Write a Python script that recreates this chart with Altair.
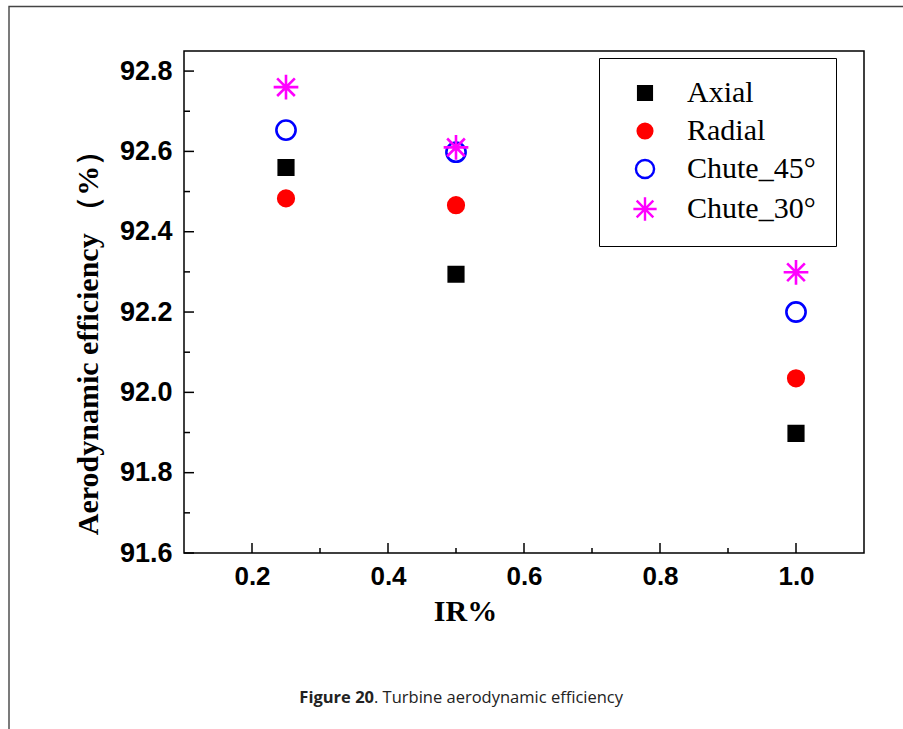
import altair as alt
import pandas as pd

# ---- data ----
ir_values = [0.25, 0.5, 1.0]
axial = [92.56, 92.294, 91.898]
radial = [92.483, 92.466, 92.035]
chute45 = [92.653, 92.598, 92.200]
chute30 = [92.760, 92.610, 92.299]
series_names = ["Axial", "Radial", "Chute_45°", "Chute_30°"]
series_values = [axial, radial, chute45, chute30]

x_major = [0.2, 0.4, 0.6, 0.8, 1.0]
x_minor = [0.3, 0.5, 0.7, 0.9]
y_major = [91.6, 91.8, 92.0, 92.2, 92.4, 92.6, 92.8]
y_minor = [91.7, 91.9, 92.1, 92.3, 92.5, 92.7]

x_title = "IR%"
y_title = "Aerodynamic efficiency （%）"
caption_bold = ["Figure 20"]
caption_rest = [". Turbine aerodynamic efficiency"]

W, H = 680, 502

rows = []
for name, vals in zip(series_names, series_values):
    for x, v in zip(ir_values, vals):
        rows.append({"IR": x, "eff": v, "series": name})
df = pd.DataFrame(rows)

# symbol paths (unit = 13 px at size 676)
square = "M-0.56,-0.56H0.56V0.56H-0.56Z"
dot = "M0.6,0A0.6,0.6,0,1,1,-0.6,0A0.6,0.6,0,1,1,0.6,0Z"
ring = "M0.74,0A0.74,0.74,0,1,1,-0.74,0A0.74,0.74,0,1,1,0.74,0Z"
star = "M-0.95,0L0.95,0M0,-0.95L0,0.95M-0.68,-0.68L0.68,0.68M-0.68,0.68L0.68,-0.68"

xscale = alt.Scale(domain=[0.1, 1.1], nice=False, zero=False)
yscale = alt.Scale(domain=[91.6, 92.85], nice=False, zero=False)

xaxis = alt.Axis(values=x_major, format=".1f", title=x_title,
                 grid=False, ticks=False, domain=False,
                 labelFont="Liberation Sans", labelFontWeight="bold",
                 labelFontSize=26, labelColor="black", labelPadding=10,
                 titleFont="Liberation Serif", titleFontWeight="bold",
                 titleFontSize=30, titleColor="black",
                 titleX=281, titleY=58, titleAlign="center",
                 titleBaseline="middle")
yaxis = alt.Axis(values=y_major, format=".1f", title=y_title,
                 grid=False, ticks=False, domain=False,
                 labelFont="Liberation Sans", labelFontWeight="bold",
                 labelFontSize=27, labelColor="black", labelPadding=12,
                 titleFont="Liberation Serif", titleFontWeight="bold",
                 titleFontSize=30, titleColor="black",
                 titleAngle=-90, titleX=-96, titleY=284,
                 titleAlign="center", titleBaseline="middle")

legend = alt.Legend(title=None, orient="none", legendX=415, legendY=7,
                    strokeColor="black", fillColor="white", padding=20,
                    symbolOffset=11, labelOffset=27, rowPadding=8,
                    symbolSize=600,
                    labelFont="Liberation Serif", labelFontSize=30,
                    labelColor="black", symbolStrokeWidth=2.4, labelLimit=400)

points = alt.Chart(df).mark_point(strokeWidth=2.6, opacity=1, size=676).encode(
    x=alt.X("IR:Q", scale=xscale, axis=xaxis, title=x_title),
    y=alt.Y("eff:Q", scale=yscale, axis=yaxis, title=y_title),
    shape=alt.Shape("series:N", scale=alt.Scale(domain=series_names,
                    range=[square, dot, ring, star]),
                    sort=series_names, legend=legend),
    fill=alt.Fill("series:N", scale=alt.Scale(domain=series_names,
                  range=["black", "red", "transparent", "transparent"]),
                  sort=series_names, legend=legend),
    stroke=alt.Stroke("series:N", scale=alt.Scale(domain=series_names,
                      range=["black", "red", "blue", "magenta"]),
                      sort=series_names, legend=legend),
)

frame_df = pd.DataFrame({"a": [0]})
frame = alt.Chart(frame_df).mark_rect(fill=None, stroke="#444", strokeWidth=1.4).encode(
    x=alt.value(-175), x2=alt.value(W + 200),
    y=alt.value(-44.5), y2=alt.value(H + 250),
)

def xticks(vals, length):
    return alt.Chart(pd.DataFrame({"IR": vals})).mark_rule(color="black", strokeWidth=1.5).encode(
        x=alt.X("IR:Q", scale=xscale, axis=xaxis, title=x_title),
        y=alt.value(H), y2=alt.value(H - length))

def yticks(vals, length):
    return alt.Chart(pd.DataFrame({"eff": vals})).mark_rule(color="black", strokeWidth=1.5).encode(
        y=alt.Y("eff:Q", scale=yscale, axis=yaxis, title=y_title),
        x=alt.value(0), x2=alt.value(length))

cap1 = alt.Chart(pd.DataFrame({"t": caption_bold})).mark_text(
    font="Open Sans", fontWeight="bold", fontSize=16.5, align="right",
    baseline="alphabetic", color="#222").encode(
    text="t:N", x=alt.value(190), y=alt.value(652))
cap2 = alt.Chart(pd.DataFrame({"t": caption_rest})).mark_text(
    font="Open Sans", fontSize=16.5, align="left",
    baseline="alphabetic", color="#222").encode(
    text="t:N", x=alt.value(190), y=alt.value(652))

chart = alt.layer(frame, xticks(x_major, 10), xticks(x_minor, 5),
                  yticks(y_major, 10), yticks(y_minor, 6),
                  points, cap1, cap2).properties(
    width=W, height=H,
    autosize=alt.AutoSizeParams(type="none"),
    padding={"left": 184, "top": 51, "right": 39, "bottom": 176},
    background="white",
).configure_view(
    stroke="black", strokeWidth=1.5
)

chart.save("out.html", embed_options={"renderer": "svg", "actions": False})
